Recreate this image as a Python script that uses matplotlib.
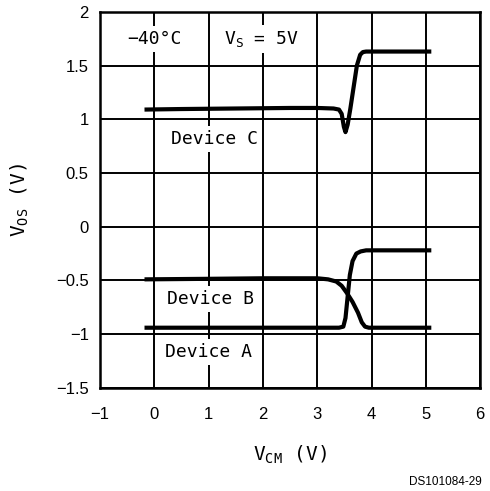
import matplotlib.pyplot as plt

# curves (V_CM in volts, V_OS in volts)
vcm_c = [-0.18, 0.5, 1.5, 2.5, 3.0, 3.3, 3.4, 3.45, 3.49, 3.52, 3.56, 3.61, 3.67, 3.73, 3.79, 3.84, 3.9, 4.2, 5.1]
vos_c = [1.09, 1.095, 1.1, 1.105, 1.105, 1.10, 1.09, 1.05, 0.93, 0.88, 0.95, 1.1, 1.3, 1.5, 1.6, 1.625, 1.63, 1.63, 1.63]

vcm_b = [-0.18, 1, 2, 3, 3.2, 3.35, 3.45, 3.55, 3.65, 3.75, 3.82, 3.88, 3.95, 4.2, 5.1]
vos_b = [-0.49, -0.485, -0.48, -0.48, -0.49, -0.51, -0.55, -0.62, -0.70, -0.80, -0.89, -0.93, -0.94, -0.94, -0.94]

vcm_a = [-0.18, 1, 2, 3, 3.4, 3.48, 3.52, 3.56, 3.6, 3.65, 3.72, 3.8, 3.9, 4.2, 5.1]
vos_a = [-0.94, -0.94, -0.94, -0.94, -0.94, -0.93, -0.85, -0.65, -0.45, -0.32, -0.25, -0.23, -0.22, -0.22, -0.22]

xticks = [-1, 0, 1, 2, 3, 4, 5, 6]
yticks = [-1.5, -1, -0.5, 0, 0.5, 1, 1.5, 2]
ytick_labels = ["\u22121.5", "\u22121", "\u22120.5", "0", "0.5", "1", "1.5", "2"]
xtick_labels = ["\u22121", "0", "1", "2", "3", "4", "5", "6"]

plt.rcParams['font.family'] = ['Liberation Sans', 'DejaVu Sans']
plt.rcParams['mathtext.fontset'] = 'custom'
plt.rcParams['mathtext.rm'] = 'DejaVu Sans Mono'

MONO = ['DejaVu Sans Mono', 'DejaVu Sans']
box = dict(facecolor='white', edgecolor='none', pad=3)

fig = plt.figure(figsize=(4.9, 4.91), dpi=100)
ax = fig.add_axes([0.204, 0.21, 0.776, 0.766])

for x, y in [(vcm_c, vos_c), (vcm_b, vos_b), (vcm_a, vos_a)]:
    ax.plot(x, y, color='black', lw=3.0, solid_capstyle='butt', solid_joinstyle='round', zorder=4)

ax.set_xlim(-1, 6)
ax.set_ylim(-1.5, 2)
ax.set_xticks(xticks)
ax.set_xticklabels(xtick_labels)
ax.set_yticks(yticks)
ax.set_yticklabels(ytick_labels)
ax.tick_params(axis='x', length=0, labelsize=12, pad=14)
ax.tick_params(axis='y', length=0, labelsize=12, pad=8)
ax.grid(True, color='black', lw=1.4)
for s in ax.spines.values():
    s.set_linewidth(1.8)

xl = ax.set_xlabel("V$_{\\rm CM}$ (V)", fontsize=14, family=MONO)
xl.set_va('center')
ax.xaxis.set_label_coords(0.5, -0.178)
yl = ax.set_ylabel("V$_{\\rm OS}$ (V)", fontsize=14, family=MONO)
yl.set_va('center')
ax.yaxis.set_label_coords(-0.21, 0.5)

ax.text(0.0, 1.745, "\u221240\u00b0C", fontsize=13, family=MONO, ha='center', va='center', bbox=box)
ax.text(1.97, 1.745, "V$_{\\rm S}$ = 5V", fontsize=13, family=MONO, ha='center', va='center', bbox=box)
ax.text(1.1, 0.815, "Device C", fontsize=13, family=MONO, ha='center', va='center', bbox=box)
ax.text(1.03, -0.67, "Device B", fontsize=13, family=MONO, ha='center', va='center', bbox=box)
ax.text(1.0, -1.165, "Device A", fontsize=13, family=MONO, ha='center', va='center', bbox=box)

fig.text(0.984, 0.018, "DS101084-29", fontsize=8.5, ha='right', va='center')

fig.savefig("out.png", dpi=100)
